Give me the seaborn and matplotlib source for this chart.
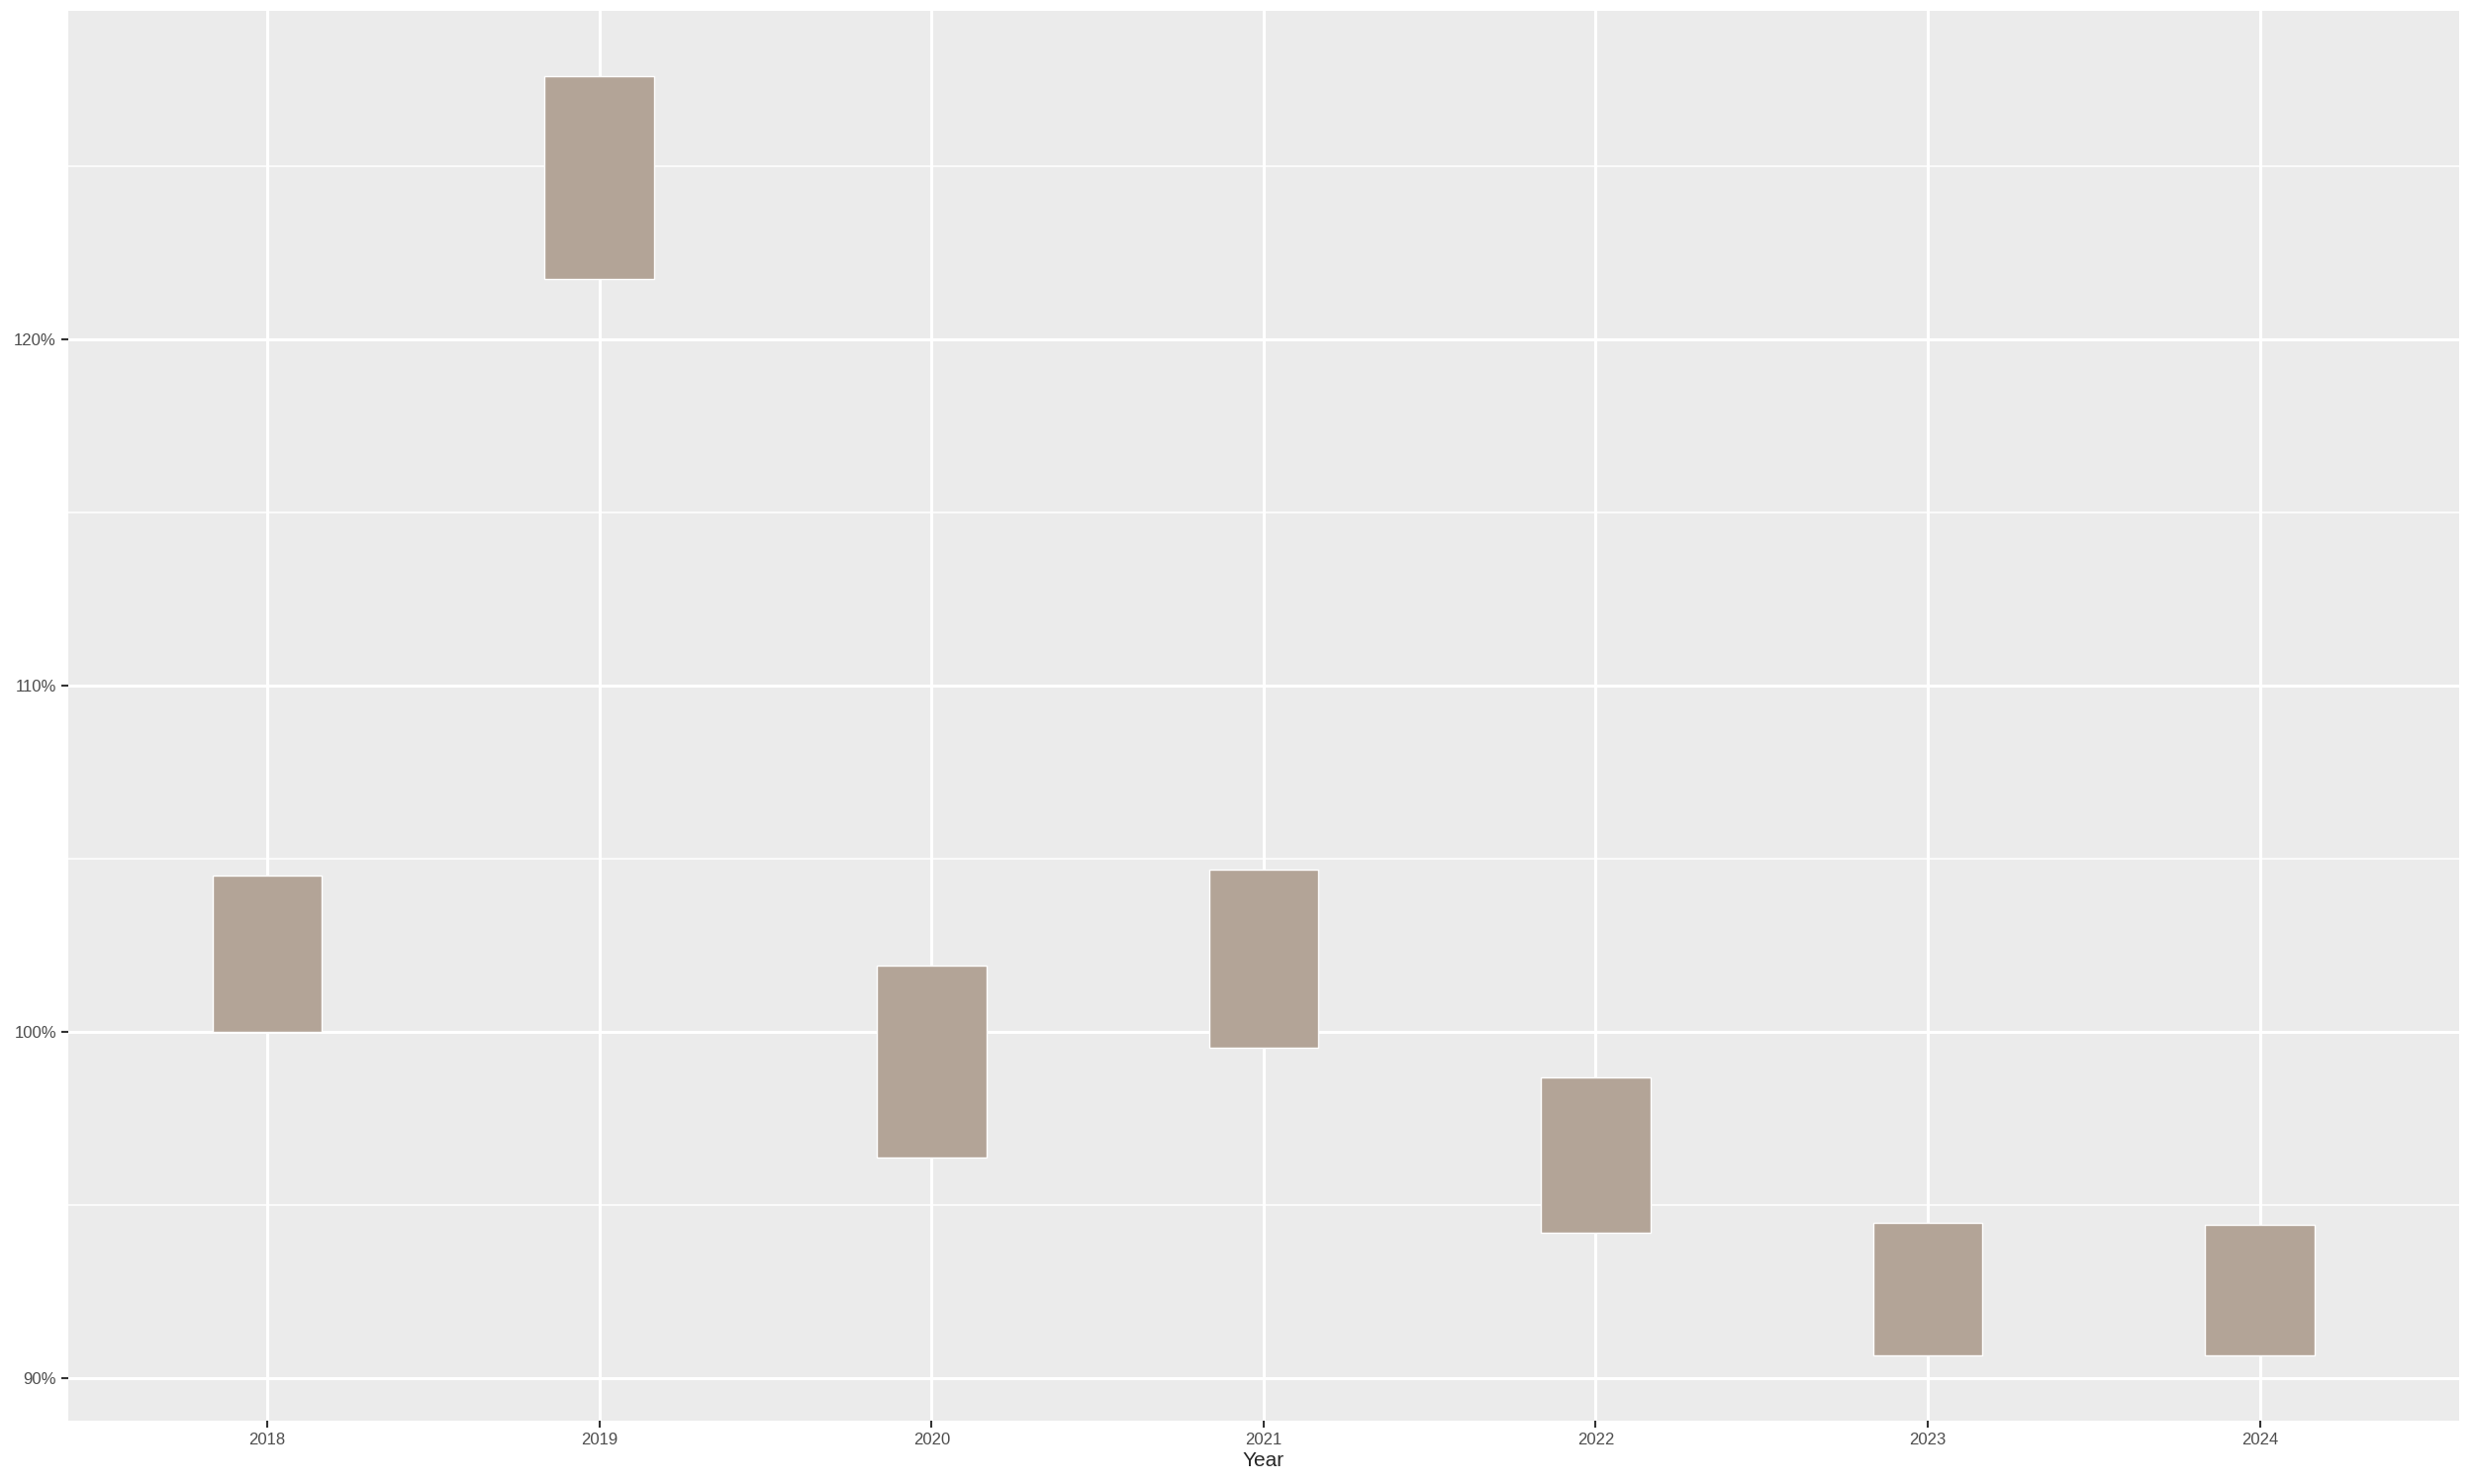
import matplotlib
matplotlib.use("Agg")
import matplotlib.pyplot as plt
import seaborn as sns
import numpy as np
from matplotlib.ticker import FixedLocator, FuncFormatter

years = ["2018", "2019", "2020", "2021", "2022", "2023", "2024"]
low = [100.0, 121.73, 96.36, 99.54, 94.21, 90.66, 90.66]
high = [104.51, 127.6, 101.91, 104.69, 98.68, 94.49, 94.44]

sns.set_theme(style="darkgrid", rc={"axes.facecolor": "#EBEBEB", "grid.color": "white"})
plt.rcParams['font.family'] = ['Liberation Sans', 'DejaVu Sans']

fig = plt.figure(figsize=(25, 15), dpi=100)
ax = fig.add_axes([0.0275, 0.0426, 0.9665, 0.95])
x = np.arange(len(years))
ax.bar(x, np.array(high) - np.array(low), bottom=low, width=0.33, color="#B3A497", zorder=3)
ax.set_xlim(-0.6, 6.6)
ax.set_ylim(88.77, 129.48)
ax.set_xticks(x)
ax.set_xticklabels(years)
ax.yaxis.set_major_locator(FixedLocator([90, 100, 110, 120]))
ax.yaxis.set_minor_locator(FixedLocator([95, 105, 115, 125]))
ax.yaxis.set_major_formatter(FuncFormatter(lambda v, p: f"{v:.0f}%"))
ax.grid(which="major", color="white", linewidth=2.2)
ax.grid(which="minor", axis="y", color="white", linewidth=1.1)
ax.tick_params(axis="both", which="major", labelsize=12, labelcolor="#4D4D4D", length=5, color="#333333", left=True, bottom=True, width=1.5)
ax.tick_params(axis="y", which="minor", length=0)
for s in ax.spines.values():
    s.set_visible(False)
ax.set_xlabel("Year", fontsize=15, labelpad=3)
ax.set_ylabel("")
fig.savefig("out.png", dpi=100, facecolor="white")
